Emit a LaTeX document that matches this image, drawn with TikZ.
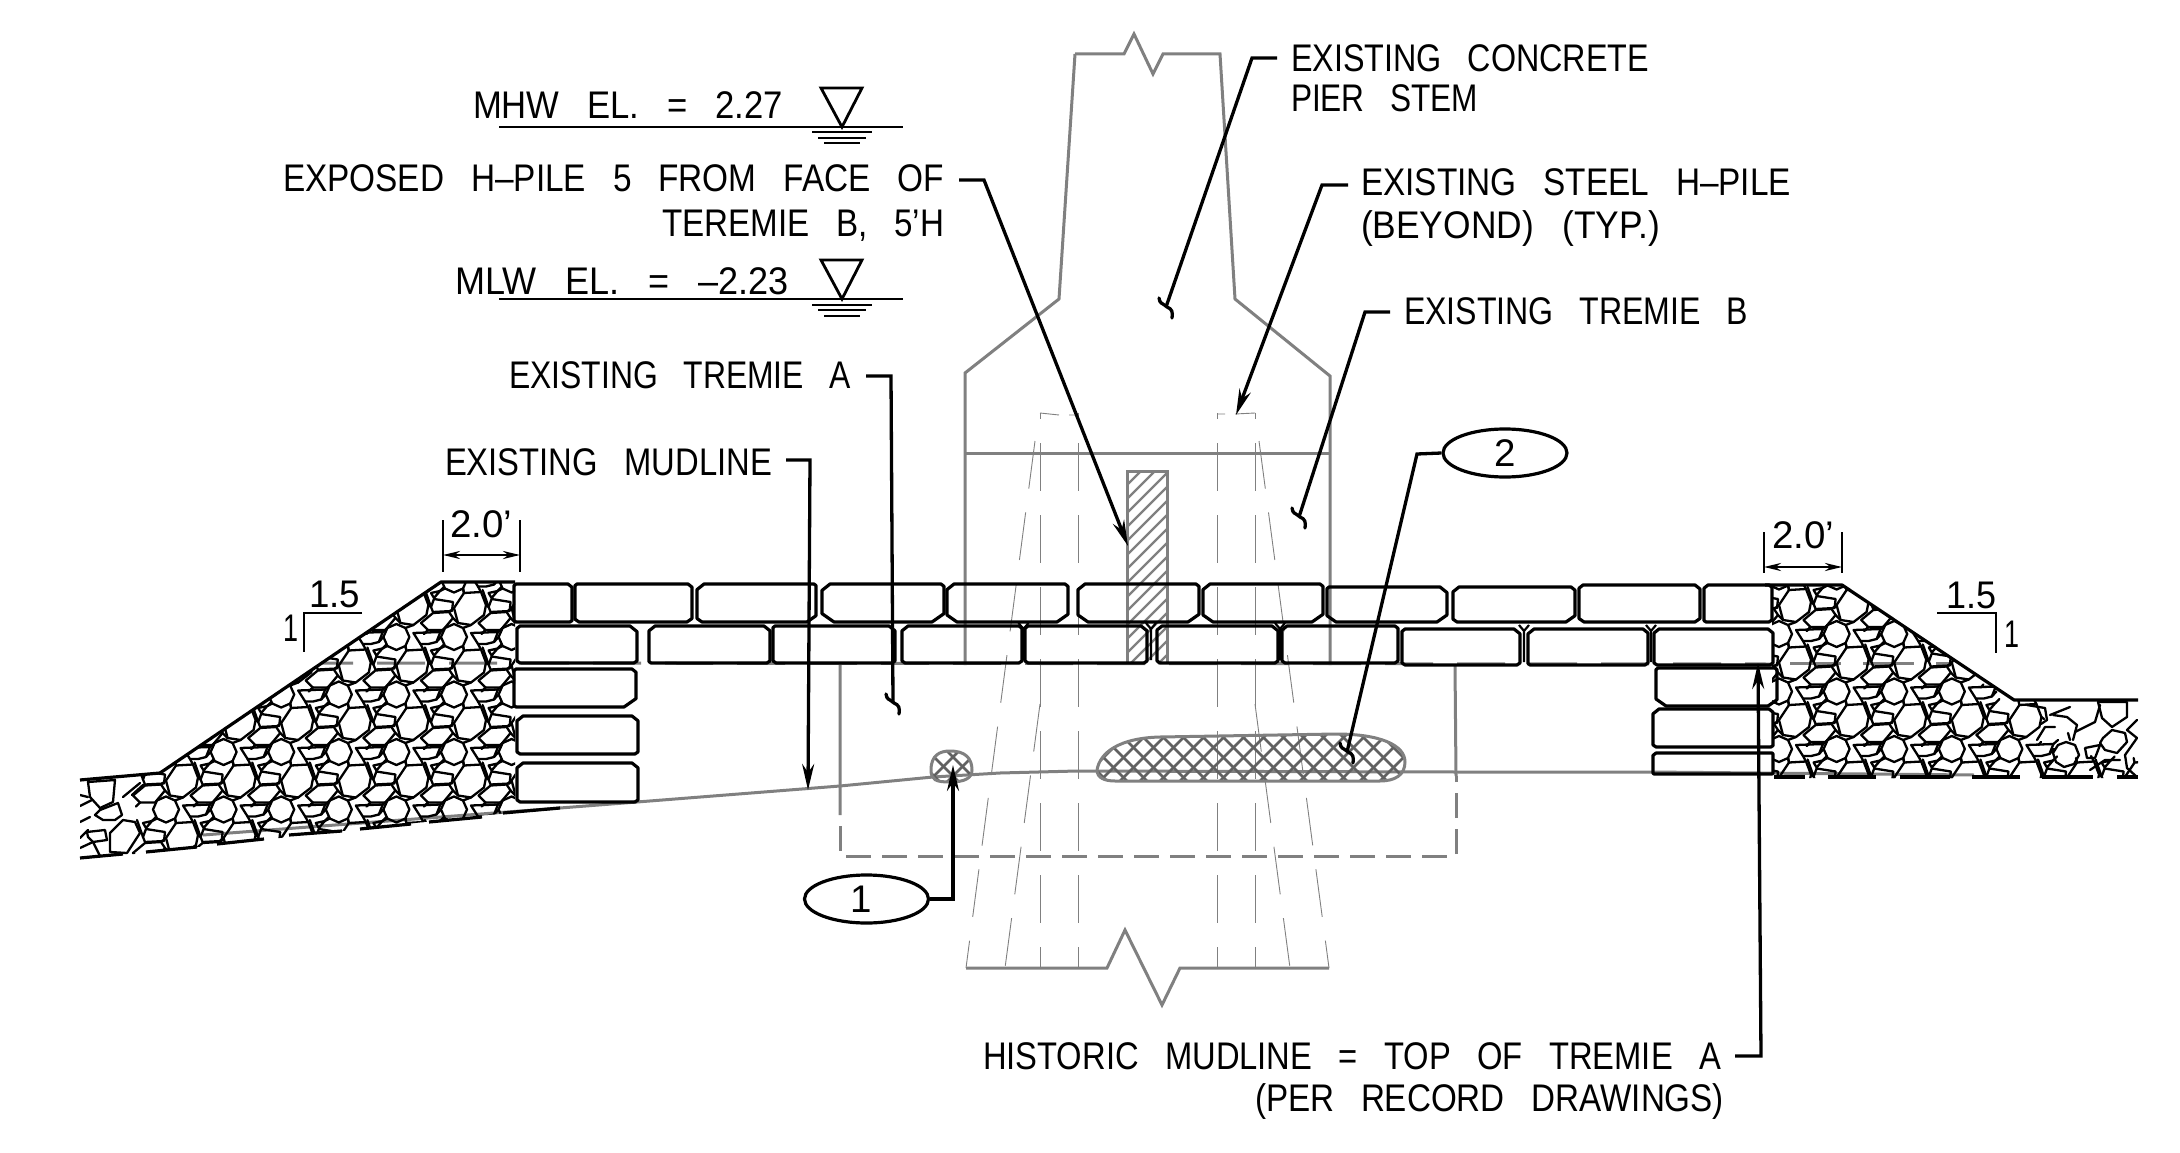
\documentclass[tikz,border=0pt]{standalone}
\usepackage{fontspec}
\setmainfont[WordSpace=2.9]{Liberation Sans}
\usepackage{graphicx}
\usetikzlibrary{arrows.meta,shapes.geometric}
\definecolor{gl}{gray}{0.50}
\tikzset{
  lblnode/.style={anchor=base west,inner sep=0pt,outer sep=0pt,font=\fontsize{38.5}{42}\selectfont},
  leader/.style={line width=3.3pt,black,line join=miter},
  tiparrow/.style={-{Stealth[length=26pt,width=12pt]}},
  dimline/.style={line width=2.6pt,{Stealth[length=17pt,width=8pt]}-{Stealth[length=17pt,width=8pt]}},
  thinblk/.style={line width=2.8pt,black},
  pier/.style={line width=3pt,gl,line join=miter},
  pile/.style={line width=0.9pt,gl},
  rock/.style={line width=2.3pt,black,line join=round,line cap=round},
  brickln/.style={line width=3.2pt,black,line join=round},
  tag/.style={ellipse,draw,line width=3.2pt,minimum width=124pt,minimum height=48pt,inner sep=0pt,font=\fontsize{38.5}{42}\selectfont},
  hatchln/.style={line width=2.2pt,gl},
  crossln/.style={line width=2.7pt,black!62},
}
\newcommand{\lbl}[5]{\node[lblnode] (#1) at (#2,#3) {\resizebox{#4pt}{\height}{#5}};}
% one cell of the rip-rap lattice, centred on its large stone
\newcommand{\ripcell}[2]{%
 \begin{scope}[shift={(#1,#2)},rock]
  \draw (-7,-17)--(10,-18)--(15,-5)--(13,5)--(0,15)--(-13,13)--(-17,-2)--cycle;
  \draw (-4,27)--(-8,18)--(-17,14)--(-26,18)--(-30,27)--(-26,36)--(-17,40)--(-8,36)--cycle;
  \draw (0,23)--(27,22)--(23,32)--(15,34)--(7,34)--cycle;
  \draw (-38,3)--(-22,2)--(-18,8)--(-28,20)--(-43,20)--(-50,13)--cycle;
  \draw (-37,-11)--(-18,-8)--(-19,1)--(-38,2)--(-40,-3)--cycle;
  \draw (-40,-17)--(-31,-19)--(-37,-12)--cycle;
  \draw (-7,-17)--(-8,-21.5) (10,-18)--(7,-23.5) (15,-5)--(17.6,-3);
  \draw (-13,13)--(-18,8) (0,15)--(-8,18) (14.6,20)--(12,23);
  \draw (27,22)--(31.6,18) (23,32)--(27.6,27);
  \draw (-26,36)--(-31,38.5) (-8,36)--(-7,40.5);
  \draw (-46,-20)--(-40,-3) (-27,-23)--(-31,-19) (-22,2)--(-17,-2) (-43,20)--(-47,24);
 \end{scope}}
% chamfered armour stone: x1 y1 x2 y2, then chamfers tl tr br bl
\newcommand{\brk}[8]{\draw[brickln] (#1+#5,#2)--(#3-#6,#2)--(#3,#2+0.8*#6)--(#3,#4-0.7*#7)--(#3-#7,#4)--(#1+#8,#4)--(#1,#4-0.7*#8)--(#1,#2+0.8*#5)--cycle;}
\newcommand{\joint}[3]{\draw[line width=2.2pt,black] (#1-5,#2)--(#1,#2+6)--(#1+5,#2) (#1,#2+6)--(#1,#3);}
\newcommand{\squig}[1]{\draw[leader,line cap=round] (#1)++(-7,-9) .. controls ++(1,6) and ++(-6,-5) .. ++(8,9) .. controls ++(5,2) and ++(1,-6) .. ++(5,11);}
\begin{document}
\begin{tikzpicture}[x=1pt,y=-1pt]
\useasboundingbox (0,0) rectangle (2180,1153);
\fill[white] (0,0) rectangle (2180,1153);

% ---- tremie, hidden and pier lines
\draw[pile,dash pattern=on 48pt off 24pt,dash phase=42pt] (1040,413)--(1040,968);
\draw[pile,dash pattern=on 48pt off 24pt,dash phase=42pt] (1078,413)--(1078,968);
\draw[pile,dash pattern=on 48pt off 24pt,dash phase=42pt] (1217,413)--(1217,968);
\draw[pile,dash pattern=on 48pt off 24pt,dash phase=42pt] (1255,413)--(1255,968);
\draw[pile] (1040,413)--(1059,415) (1069,415)--(1078,415);
\draw[pile] (1217,414)--(1225,414) (1235,414)--(1255,413);
\draw[pile,dash pattern=on 48pt off 24pt] (1035,441)--(966,968);
\draw[pile,dash pattern=on 48pt off 24pt] (1259,441)--(1329,968);
\draw[pile,dash pattern=on 48pt off 24pt] (1040,704)--(1005,968);
\draw[pile,dash pattern=on 48pt off 24pt] (1255,704)--(1290,968);

\draw[pier] (1075,54)--(1124,54)--(1134,34)--(1153,74)--(1163,54)--(1220,54)--(1235,299)--(1330,376)--(1330,665);
\draw[pier] (1075,54)--(1059,299)--(965,373)--(965,665);
\draw[pier] (965,453)--(1330,453);
\draw[pier] (966,968)--(1107,968)--(1125,930)--(1162,1005)--(1180,968)--(1329,968);
\draw[pier] (840,665)--(840,815) (1455,665)--(1456,776);
\draw[pier,dash pattern=on 25pt off 11pt,dash phase=25pt] (840,815)--(840,856)--(1456,856)--(1456,776);
% mudline and record grade
\draw[pier] (203,835)--(560,808)--(637,802)--(840,786)--(933,777)--(1000,773)--(1077,771)--(1456,772)--(1650,772)--(1974,775);
\draw[pier,dash pattern=on 48pt off 24pt,dash phase=16pt] (321,663)--(1773,664);
\draw[pier,dash pattern=on 51pt off 22pt] (1790,663)--(1950,663);

% ---- hatched H-pile
\begin{scope}
 \clip (1127,471) rectangle (1167,664);
 \foreach \a in {934,948,...,1167} \draw[hatchln] (\a,664)--(\a+193,471);
\end{scope}
\draw[pier] (1127,664)--(1127,471)--(1167,471)--(1167,664);

% ---- cross-hatched masses
\begin{scope}
 \clip (1097,770) .. controls (1100,752) and (1120,738) .. (1160,737) -- (1336,734) .. controls (1380,734) and (1405,745) .. (1405,762) .. controls (1405,775) and (1395,781) .. (1380,781) -- (1115,781) .. controls (1105,781) and (1097,778) .. (1097,770);
 \foreach \a in {1040,1060,...,1420} {\draw[crossln] (\a,781)--(\a+47,734); \draw[crossln] (\a,734)--(\a+47,781);}
\end{scope}
\draw[pier] (1097,770) .. controls (1100,752) and (1120,738) .. (1160,737) -- (1336,734) .. controls (1380,734) and (1405,745) .. (1405,762) .. controls (1405,775) and (1395,781) .. (1380,781) -- (1115,781) .. controls (1105,781) and (1097,778) .. (1097,770);
\begin{scope}
 \clip (931,770) .. controls (931,755) and (940,751) .. (950,751) .. controls (965,751) and (972,758) .. (972,770) .. controls (972,778) and (965,782) .. (950,782) .. controls (936,782) and (931,780) .. (931,770);
 \foreach \a in {890,909,...,980} {\draw[crossln] (\a,782)--(\a+31,751); \draw[crossln] (\a,751)--(\a+31,782);}
\end{scope}
\draw[pier] (931,770) .. controls (931,755) and (940,751) .. (950,751) .. controls (965,751) and (972,758) .. (972,770) .. controls (972,778) and (965,782) .. (950,782) .. controls (936,782) and (931,780) .. (931,770);

% ---- left rip-rap
\begin{scope}
 \clip (80,780)--(160,773)--(441,582)--(515,582)--(515,812)--(80,860)--cycle;
 \foreach \py in {552.5,610,667.5,725,782.5,840} \foreach \k in {183,240.6,298.2,355.8,413.4,471,528.6} {\ripcell{\k}{\py}}
 \begin{scope}[rock]
  \draw (88,782)--(115,780)--(113,802)--(100,808)--(90,797)--cycle;
  \draw (100,810)--(118,803)--(122,815)--(115,820)--(103,820)--(95,815)--cycle;
  \draw (123,797)--(140,783) (132,795)--(143,785);
  \draw (87,832)--(105,830)--(107,840)--(93,842)--(88,837)--cycle;
  \draw (123,820)--(135,822)--(140,833)--(127,853)--(110,852)--(110,833)--cycle;
  \draw (80,795)--(88,797) (80,806)--(92,800) (80,822)--(90,817) (80,838)--(88,830) (80,848)--(93,842)--(100,856);
 \end{scope}
\end{scope}
\draw[line width=3.2pt,black,line join=round] (80,780)--(160,773)--(441,582)--(515,582);
\foreach \xa/\ya/\xb/\yb in {80/858/123/854,146/852/197/847,217/844/264/839,289/835/342/831,360/829/411/824,429/822/482/817,503/813/560/808}
  \draw[line width=3.2pt,black] (\xa,\ya)--(\xb,\yb);

% ---- right rip-rap
\begin{scope}
 \clip (1772,585)--(1842,585)--(2014,700)--(2138,700)--(2138,778)--(1772,778)--cycle;
 \foreach \px in {1796,1853.6,1911.2,1968.8} \foreach \py in {549.5,607,664.5,722,779.5} {\ripcell{\px}{\py}}
 \ripcell{2026.4}{722}
 \foreach \px in {2026.4,2084,2141.6} {\ripcell{\px}{779.5}}
 \begin{scope}[rock]
  \draw (2098,702)--(2127,702)--(2127,717)--(2112,727)--(2102,718)--cycle;
  \draw (2103,738)--(2112,730)--(2125,733)--(2127,742)--(2117,753)--(2105,750)--(2100,743)--cycle;
  \draw (2027,705)--(2045,708)--(2047,720)--(2041,724);
  \draw (2037,740)--(2045,727)--(2055,727);
  \draw (2050,715)--(2070,707) (2053,715)--(2067,717)--(2077,725)--(2073,740) (2068,733)--(2070,740);
  \draw (2075,732)--(2095,722)--(2100,705);
  \draw (2137,720)--(2127,730)--(2137,738)--(2125,755)--(2127,768)--(2137,777);
  \draw (2066,742)--(2075,745)--(2079,755)--(2074,764)--(2064,767)--(2056,762)--(2053,753)--(2058,745)--cycle;
  \draw (2085,748)--(2100,745)--(2095,758)--(2087,758)--cycle (2090,770)--(2105,760)--(2120,760);
 \end{scope}
\end{scope}
\draw[line width=3.2pt,black,line join=round] (1765,585)--(1842,585)--(2014,700)--(2138,700);
\foreach \xa/\xb in {1774/1805,1828/1876,1900/1950,1972/2020,2042/2093,2117/2138}
  \draw[line width=3.2pt,black] (\xa,777)--(\xb,777);

% ---- armour stones, left stack and top rows
\brk{514}{584}{572}{622}{2}{4}{2}{2}
\brk{575}{584}{692}{622}{2}{4}{5}{4}
\brk{697}{584}{816}{622}{7}{2}{9}{5}
\brk{822}{584}{944}{622}{8}{3}{12}{12}
\brk{947}{584}{1068}{622}{7}{3}{11}{10}
\brk{1078}{584}{1199}{622}{7}{3}{11}{10}
\brk{1203}{584}{1323}{622}{7}{3}{11}{10}
\brk{1327}{587}{1447}{622}{2}{7}{10}{9}
\brk{1453}{587}{1575}{622}{6}{4}{9}{4}
\brk{1579}{585}{1700}{622}{4}{5}{5}{5}
\brk{1704}{585}{1772}{622}{4}{3}{3}{2}
\brk{517}{626}{637}{663}{3}{7}{3}{3}
\brk{649}{626}{770}{663}{6}{6}{3}{2}
\brk{773}{626}{895}{663}{2}{6}{3}{3}
\brk{902}{626}{1022}{663}{6}{3}{3}{3}
\brk{1025}{626}{1147}{663}{3}{6}{3}{3}
\brk{1157}{626}{1278}{663}{5}{6}{3}{3}
\brk{1282}{626}{1398}{663}{5}{3}{3}{3}
\brk{1402}{629}{1520}{665}{3}{6}{3}{3}
\brk{1528}{629}{1648}{665}{6}{5}{3}{2}
\brk{1654}{629}{1773}{665}{5}{5}{3}{3}
\brk{514}{669}{636}{707}{2}{4}{12}{2}
\brk{517}{716}{638}{754}{6}{6}{3}{3}
\brk{517}{763}{638}{802}{6}{6}{3}{3}
\brk{1656}{668}{1777}{706}{2}{2}{9}{10}
\brk{1653}{709}{1773}{747}{6}{4}{2}{3}
\brk{1653}{753}{1773}{774}{3}{1}{1}{1}
\joint{1023.5}{623}{660}
\joint{1151}{623}{660}
\joint{1280}{623}{660}
\joint{1524}{625}{662}
\joint{1651}{625}{662}

% ---- labels
\lbl{mhwt}{473}{119}{310}{MHW EL. = 2.27}
\lbl{mlwt}{455}{294}{334}{MLW EL. = –2.23}
\lbl{expa}{283}{191}{661}{EXPOSED H–PILE 5 FROM FACE OF}
\lbl{expb}{662}{236}{282}{TEREMIE B, 5'H}
\lbl{trea}{509}{388}{342}{EXISTING TREMIE A}
\lbl{mudt}{445}{475}{327}{EXISTING MUDLINE}
\lbl{cona}{1291}{72}{358}{EXISTING CONCRETE}
\lbl{conb}{1291}{112}{187}{PIER STEM}
\lbl{stla}{1361}{195}{430}{EXISTING STEEL H–PILE}
\lbl{stlb}{1361}{238}{299}{(BEYOND) (TYP.)}
\lbl{treb}{1404}{324}{344}{EXISTING TREMIE B}
\lbl{hisa}{983}{1069}{738}{HISTORIC MUDLINE = TOP OF TREMIE A}
\lbl{hisb}{1255}{1111}{469}{(PER RECORD DRAWINGS)}
\lbl{dl}{450}{537}{62}{2.0'}
\lbl{dr}{1772}{548}{62}{2.0'}
\lbl{sla}{309}{607}{51}{1.5}
\lbl{slb}{283}{641}{15}{1}
\lbl{sra}{1946}{608}{50}{1.5}
\lbl{srb}{2004}{647}{15}{1}

% ---- water symbols
\draw[thinblk] (499,127)--(903,127);
\draw[thinblk,line join=miter] (821,88)--(862,88)--(842,127)--cycle;
\draw[thinblk] (812,132)--(872,132) (818,138)--(866,138) (824,143)--(860,143);
\draw[thinblk] (499,299)--(903,299);
\draw[thinblk,line join=miter] (821,260)--(862,260)--(842,299)--cycle;
\draw[thinblk] (812,305)--(872,305) (818,310)--(866,310) (824,316)--(860,316);

% ---- dimensions and slope marks
\coordinate (dla) at (443,555); \coordinate (dlb) at (520,555);
\draw[thinblk] (443,520)--(443,572) (520,520)--(520,572);
\draw[dimline] (dla)--(dlb);
\coordinate (dra) at (1764,567); \coordinate (drb) at (1842,567);
\draw[thinblk] (1764,532)--(1764,573) (1842,532)--(1842,573);
\draw[dimline] (dra)--(drb);
\draw[thinblk,line join=miter] (362,613)--(304,613)--(304,652);
\draw[thinblk,line join=miter] (1937,613)--(1996,613)--(1996,653);

% ---- tags and leaders
\node[tag] (one) at (866.5,899) {\kern-10pt 1};
\node[tag] (two) at (1505,453) {2};
\coordinate (conj) at (1252,58); \coordinate (cons) at (1277,58); \coordinate (cont) at (1166,307);
\draw[leader] (cons)--(conj)--(cont); \squig{cont}
\coordinate (stls) at (1348,185); \coordinate (stlj) at (1322,185); \coordinate (stlt) at (1236,415);
\draw[leader,tiparrow] (stls)--(stlj)--(stlt);
\coordinate (trbs) at (1390,312); \coordinate (trbj) at (1365,312); \coordinate (trbt) at (1299,517);
\draw[leader] (trbs)--(trbj)--(trbt); \squig{trbt}
\coordinate (twoj) at (1417,454); \coordinate (twot) at (1347,752);
\draw[leader] (two.west)--(twoj)--(twot); \squig{twot}
\coordinate (onej) at (953,899); \coordinate (onet) at (953,765);
\draw[leader,tiparrow] (one.east)--(onej)--(onet);
\coordinate (exps) at (959,180); \coordinate (expj) at (984,180); \coordinate (expt) at (1128,546);
\draw[leader,tiparrow] (exps)--(expj)--(expt);
\coordinate (tras) at (866,376); \coordinate (traj) at (891,376); \coordinate (trat) at (893,703);
\draw[leader] (tras)--(traj)--(trat); \squig{trat}
\coordinate (muds) at (786,460); \coordinate (mudj) at (810,460); \coordinate (mudt) at (808,790);
\draw[leader,tiparrow] (muds)--(mudj)--(mudt);
\coordinate (hiss) at (1735,1056); \coordinate (hisj) at (1761,1056); \coordinate (hist) at (1758,663);
\draw[leader,tiparrow] (hiss)--(hisj)--(hist);
\end{tikzpicture}
\end{document}
